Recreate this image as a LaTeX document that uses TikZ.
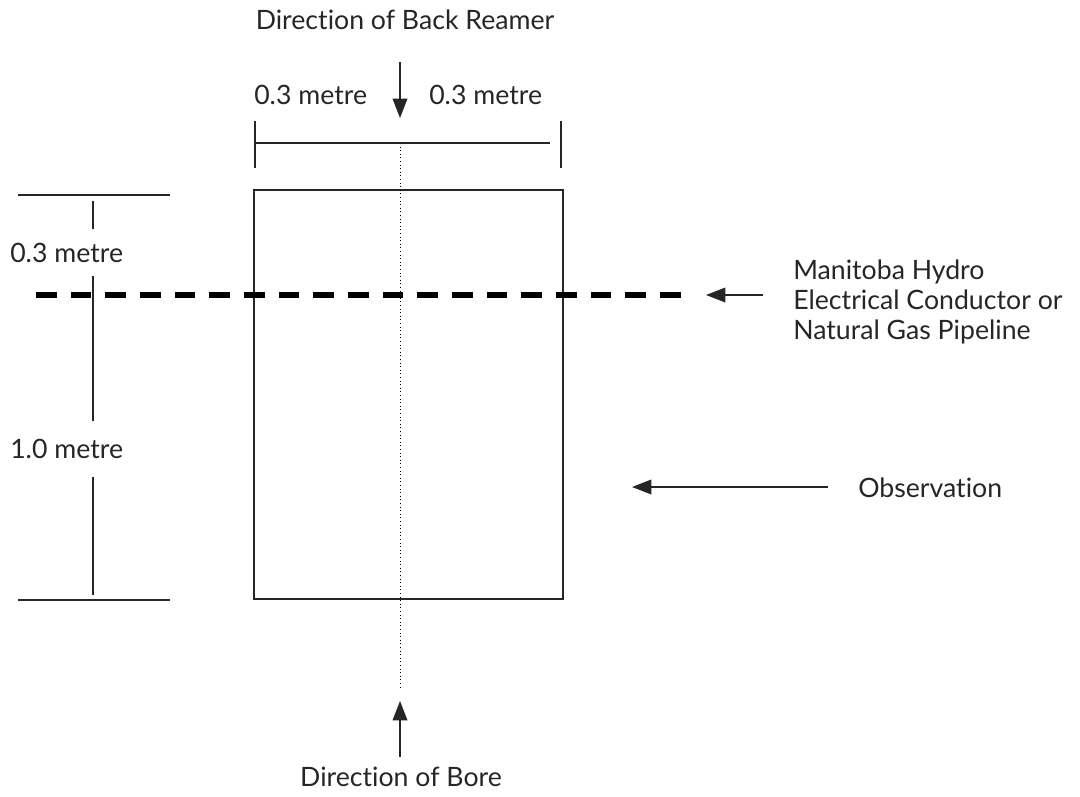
\documentclass[tikz,border=0pt]{standalone}
\usepackage{fontspec}
\setmainfont{Lato}[Ligatures={NoCommon,NoContextual,NoRare}]
\usetikzlibrary{arrows.meta}
\begin{document}
\begin{tikzpicture}[x=0.75pt,y=-0.75pt,
  lbl/.style={font=\fontsize{20}{22.5}\selectfont, text=black!85, inner sep=0pt},
  ln/.style={line width=1.1pt, black!85},
  arr/.style={ln, -{Triangle[length=14.5pt,width=11pt]}},
  pipe/.style={line width=5pt, dash pattern=on 15.5pt off 10.5pt},
  axis/.style={line width=0.7pt, dotted}]
\useasboundingbox (0,0) rectangle (1080,796);
% texts
\node[lbl] (reamer) at (405,20) {Direct\kern0pt ion of Back Reamer};
\node[lbl,anchor=west] (lw) at (254,95) {0.3 metre};
\node[lbl,anchor=west] (rw) at (429,95) {0.3 metre};
\node[lbl,anchor=west] (lh1) at (10,253) {0.3 metre};
\node[lbl,anchor=west] (lh2) at (10,449) {1.0 metre};
\node[lbl,anchor=west,align=left] (mh) at (793,302) {Manitoba Hydro\\Electrical Conductor or\\Natural Gas Pipeline};
\node[lbl,anchor=west] (obs) at (858,488) {Observat\kern0pt ion};
\node[lbl] (bore) at (401,777) {Direct\kern0pt ion of Bore};
% box
\node[draw=black!85, line width=1.1pt, minimum width=309*0.75pt, minimum height=409*0.75pt, inner sep=0pt] (box) at (408.5,394.5) {};
% axis
\coordinate (axtop) at (400,143);
\coordinate (axbot) at (400,690);
\draw[axis] (axtop) -- (axbot);
% top arrow
\coordinate (ta1) at (400,62);
\coordinate (ta2) at (400,118);
\draw[arr] (ta1) -- (ta2);
% top dimension
\coordinate (td1) at (255,143);
\coordinate (td2) at (550,143);
\draw[ln] (td1) -- (td2);
\draw[ln] (255,121) -- (255,168);
\draw[ln] (561,121) -- (561,168);
% left dimension
\draw[ln] (18,195) -- (170,195);
\draw[ln] (18,600) -- (170,600);
\draw[ln] (93,201) -- (93,229);
\draw[ln] (93,276) -- (93,421);
\draw[ln] (93,477) -- (93,595);
% pipeline
\coordinate (p1) at (36,295);
\coordinate (p2) at (682,295);
\draw[pipe] (p1) -- (p2);
\coordinate (ma1) at (763,295);
\coordinate (ma2) at (706,295);
\draw[arr] (ma1) -- (ma2);
% observation arrow
\coordinate (oa1) at (828,487);
\coordinate (oa2) at (632,487);
\draw[arr] (oa1) -- (oa2);
% bottom arrow
\coordinate (ba1) at (400,757);
\coordinate (ba2) at (400,701);
\draw[arr] (ba1) -- (ba2);
\end{tikzpicture}
\end{document}
